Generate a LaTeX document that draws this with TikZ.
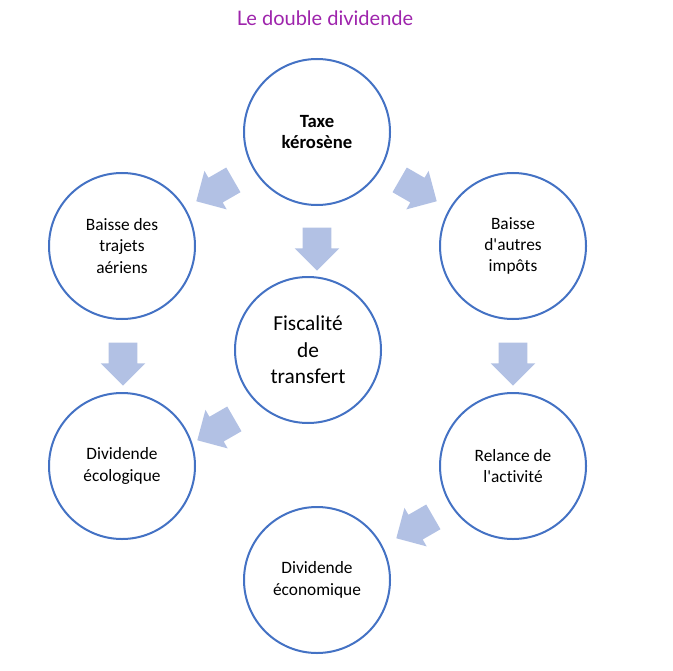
\documentclass[tikz,border=0pt]{standalone}
\usepackage{fontspec}
\setmainfont{Carlito}[Ligatures=NoCommon]
\newfontfamily\titlefont{Lato}
\usetikzlibrary{shapes.arrows}
\definecolor{ringblue}{RGB}{68,114,196}
\definecolor{arrowblue}{RGB}{178,193,228}
\definecolor{titlepurple}{RGB}{158,36,172}

\begin{document}
\begin{tikzpicture}[x=0.75pt, y=-0.75pt,
        bubble/.style={circle, draw=ringblue, line width=1.5pt, fill=white, minimum size=109.5pt, inner sep=0pt, align=center, font=\fontsize{13}{16}\selectfont},
        fatarrow/.style={single arrow, fill=arrowblue, inner sep=10.5pt, single arrow head extend=6pt, minimum height=30pt}]
    \useasboundingbox (0,0) rectangle (673,670);
    \node[text=titlepurple, font=\titlefont\fontsize{15}{18}\selectfont] (title) at (325,18) {Le double dividende};

    % les cercles
    \node[bubble, font=\bfseries\fontsize{14}{16}\selectfont] (taxe) at (317,132) {Taxe\\kérosène};
    \node[bubble] (trajets) at (122,246) {Baisse des\\trajets\\aériens};
    \node[bubble] (impots) at (513,246) {Baisse\\d\textquotesingle autres\\impôts};
    \node[bubble, font=\fontsize{16}{20}\selectfont] (fisc) at (308,350) {Fiscalité\\de\\transfert};
    \node[bubble] (ecolo) at (122,466) {Dividende\\écologique};
    \node[bubble] (relance) at (513,466) {Relance de\\l\textquotesingle activité};
    \node[bubble] (econo) at (317,580) {Dividende\\économique};

    % les flèches
    \node[fatarrow, rotate=210] (f1) at (221,187) {};
    \node[fatarrow, rotate=-30] (f2) at (412,187) {};
    \node[fatarrow, rotate=-90] (f3) at (317,242) {};
    \node[fatarrow, rotate=-90] (f4) at (123,357) {};
    \node[fatarrow, rotate=-90] (f5) at (513,357) {};
    \node[fatarrow, rotate=210] (f6) at (222,426) {};
    \node[fatarrow, rotate=210] (f7) at (421,524) {};
\end{tikzpicture}
\end{document}
